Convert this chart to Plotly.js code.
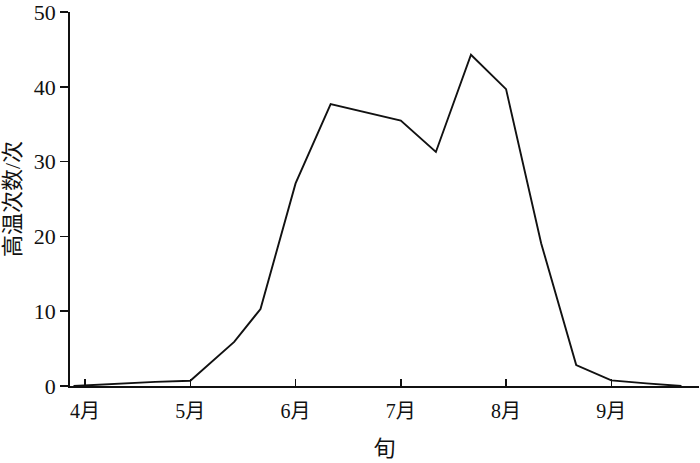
<!DOCTYPE html>
<html>
<head>
<meta charset="utf-8">
<script src="https://cdn.plot.ly/plotly-3.0.1.min.js"></script>
<style>html,body{margin:0;padding:0;background:#fff;}#chart{width:700px;height:463px;}</style>
</head>
<body>
<div id="chart"></div>
<script>
// dekad index (0 = first dekad of April)
const dekad = [-0.33, 1, 2, 3, 4.25, 5, 6, 7, 8, 9, 10, 11, 12, 13, 14, 15, 16, 17];
const hotCount = [0, 0.35, 0.55, 0.7, 5.9, 10.3, 27.1, 37.7, 36.6, 35.5, 31.3, 44.3, 39.7, 19.1, 2.8, 0.75, 0.35, 0];
const monthTickVals = [0, 3, 6, 9, 12, 15, 17.5];
const monthTickText = ['4月', '5月', '6月', '7月', '8月', '9月', ''];
const yTickVals = [0, 10, 20, 30, 40, 50];

const fontFam = '"Liberation Serif", "Times New Roman", "Noto Sans CJK SC", serif';

const trace = {
  x: dekad,
  y: hotCount,
  type: 'scatter',
  mode: 'lines',
  line: {color: '#111', width: 1.9},
  hoverinfo: 'skip'
};

const layout = {
  width: 700,
  height: 463,
  margin: {l: 70, r: 1, t: 12, b: 77},
  paper_bgcolor: '#fff',
  plot_bgcolor: '#fff',
  showlegend: false,
  font: {family: fontFam, size: 21, color: '#111'},
  xaxis: {
    range: [-0.43, 17.5],
    tickmode: 'array',
    tickvals: monthTickVals,
    ticktext: monthTickText,
    ticks: 'inside',
    ticklen: 7,
    tickwidth: 1.5,
    tickcolor: '#111',
    showline: true,
    linecolor: '#111',
    linewidth: 1.8,
    showgrid: false,
    zeroline: false,
    ticklabelstandoff: 6,
    tickfont: {family: fontFam, size: 20, color: '#111'},
    title: {text: '旬', font: {family: fontFam, size: 22, color: '#111'}, standoff: 20},
    automargin: false,
    fixedrange: true
  },
  yaxis: {
    range: [0, 50.02],
    tickmode: 'array',
    tickvals: yTickVals,
    ticks: 'outside',
    ticklen: 8,
    tickwidth: 1.5,
    tickcolor: '#111',
    showline: true,
    linecolor: '#111',
    linewidth: 1.8,
    showgrid: false,
    zeroline: false,
    ticklabeloverflow: 'allow',
    tickfont: {family: fontFam, size: 22, color: '#111'},
    title: {text: '高温次数/次', font: {family: fontFam, size: 22, color: '#111'}, standoff: 12},
    automargin: false,
    fixedrange: true
  }
};

Plotly.newPlot('chart', [trace], layout, {displayModeBar: false, staticPlot: true});
</script>
</body>
</html>
